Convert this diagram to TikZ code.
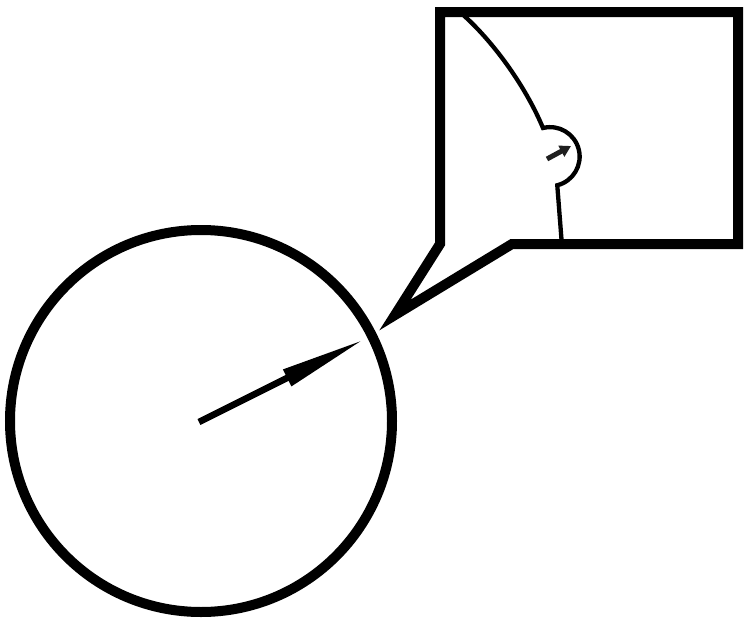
\documentclass[tikz,border=0pt]{standalone}
\usetikzlibrary{arrows.meta}
\begin{document}
\begin{tikzpicture}[x=1pt,y=-1pt,
  thickline/.style={line width=10pt, line join=miter},
  inset/.style={line width=4.3pt, line join=miter}]
\useasboundingbox (0,0) rectangle (750,629);
% big circle
\coordinate (c) at (201,421);
\draw[line width=10pt] (c) circle[radius=191];
\coordinate (tip) at (365,339);
\draw[line width=6.5pt, -{Triangle[length=87pt 0 0, width=17pt 0 0]}] (199,422) -- (tip);
% inset content
\draw[inset] (461,13) .. controls (492,40) and (525,85) .. (543,128)
   arc[start angle=-104, end angle=76, radius=29.5] -- (562,246);
\draw[line width=5pt, color=black!88, -{Triangle[length=11pt 0 0, width=12pt 0 0]}] (547,159) -- (571,146);
% callout box
\draw[thickline] (512,244) -- (738,244) -- (738,12) -- (440,12) -- (440,244) -- (395,315) -- cycle;
\end{tikzpicture}
\end{document}
